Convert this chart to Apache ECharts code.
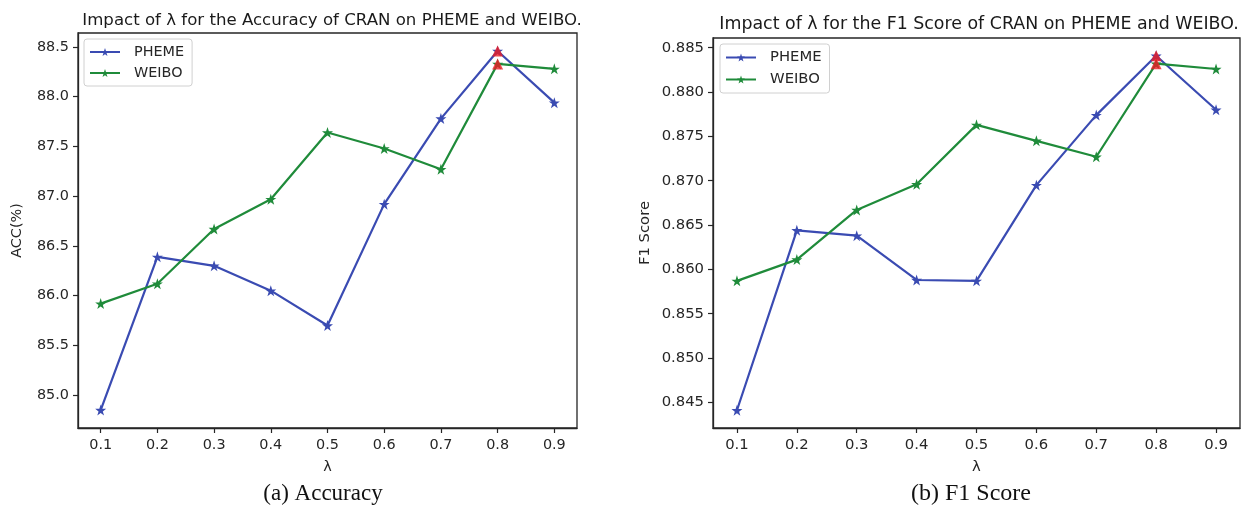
<!DOCTYPE html>
<html><head><meta charset="utf-8">
<script src="https://cdn.jsdelivr.net/npm/echarts@6/dist/echarts.min.js"></script>
<style>html,body{margin:0;padding:0;background:#fff}#c{width:1248px;height:510px}</style>
</head><body><div id="c"></div>
<script>
// ---- data ----
const lambdas = [0.1, 0.2, 0.3, 0.4, 0.5, 0.6, 0.7, 0.8, 0.9];
const accPheme = [84.85, 86.39, 86.30, 86.05, 85.70, 86.92, 87.78, 88.46, 87.94];
const accWeibo = [85.92, 86.12, 86.67, 86.97, 87.64, 87.48, 87.27, 88.33, 88.28];
const f1Pheme = [0.8441, 0.8644, 0.8638, 0.8588, 0.8587, 0.8695, 0.8774, 0.8841, 0.8780];
const f1Weibo = [0.8587, 0.8611, 0.8667, 0.8696, 0.8763, 0.8745, 0.8727, 0.8832, 0.8826];
const xTicks = [0.1, 0.2, 0.3, 0.4, 0.5, 0.6, 0.7, 0.8, 0.9];
const accTicks = [85.0, 85.5, 86.0, 86.5, 87.0, 87.5, 88.0, 88.5];
const f1Ticks = [0.845, 0.850, 0.855, 0.860, 0.865, 0.870, 0.875, 0.880, 0.885];
const seriesNames = ['PHEME', 'WEIBO'];
const titles = ['Impact of λ for the Accuracy of CRAN on PHEME and WEIBO.', 'Impact of λ for the F1 Score of CRAN on PHEME and WEIBO.'];
const captions = ['(a) Accuracy', '(b) F1 Score'];
const yNames = ['ACC(%)', 'F1 Score'];

// ---- style ----
const BLUE = '#3a4bb2', GREEN = '#1f8b3a', RED = '#ee1c24', INK = '#262626';
const FONT = 'DejaVu Sans';
const STAR = 'path://M50,0 L61.8,35.1 L97.6,35.1 L68.5,56.8 L79.4,90.5 L50,69.6 L20.6,90.5 L31.5,56.8 L2.4,35.1 L38.2,35.1 Z';

function pad(arrs, frac) {
  const all = [].concat(...arrs);
  const lo = Math.min(...all), hi = Math.max(...all), m = (hi - lo) * frac;
  return [lo - m, hi + m];
}
const xr = pad([lambdas], 0.05);
const accR = pad([accPheme, accWeibo], 0.05);
const f1R = pad([f1Pheme, f1Weibo], 0.05);

const grids = [
  {left: 78, right: 671, top: 33, bottom: 82},
  {left: 713, right: 8, top: 38, bottom: 82}
];
const fs = [14.4, 14.8];

function xAxis(i) {
  return {
    type: 'value', gridIndex: i, min: xr[0], max: xr[1],
    name: 'λ', nameLocation: 'middle', nameGap: 32,
    nameTextStyle: {fontFamily: FONT, fontSize: fs[i], color: INK},
    axisLine: {show: true, lineStyle: {color: INK, width: 1.3}},
    axisTick: {show: true, length: 5, customValues: xTicks, lineStyle: {color: INK, width: 1.2}},
    axisLabel: {customValues: xTicks, margin: 10, fontFamily: FONT, fontSize: fs[i], color: INK,
      formatter: v => v.toFixed(1)},
    splitLine: {show: false}
  };
}
function yAxis(i, r, ticks, name, dec, gap) {
  return {
    type: 'value', gridIndex: i, min: r[0], max: r[1],
    name: name, nameLocation: 'middle', nameGap: gap, nameRotate: 90,
    nameTextStyle: {fontFamily: FONT, fontSize: fs[i], color: INK},
    axisLine: {show: true, lineStyle: {color: INK, width: 1.3}},
    axisTick: {show: true, length: 5, customValues: ticks, lineStyle: {color: INK, width: 1.2}},
    axisLabel: {customValues: ticks, margin: 9, fontFamily: FONT, fontSize: fs[i], color: INK,
      formatter: v => v.toFixed(dec)},
    splitLine: {show: false}
  };
}
function lineSeries(name, color, xi, vals) {
  return {
    type: 'line', name: name, xAxisIndex: xi, yAxisIndex: xi,
    data: lambdas.map((x, k) => [x, vals[k]]),
    symbol: STAR, symbolSize: 11, showAllSymbol: true,
    lineStyle: {color: color, width: 2.2},
    itemStyle: {color: color},
    emphasis: {disabled: true}, animation: false, z: 3
  };
}
function maxMark(xi, vals) {
  let k = vals.indexOf(Math.max(...vals));
  return {
    type: 'scatter', xAxisIndex: xi, yAxisIndex: xi,
    data: [[lambdas[k], vals[k]]],
    symbol: 'triangle', symbolSize: [11, 11],
    itemStyle: {color: RED}, animation: false, z: 5, silent: true
  };
}
function legend(i, left, top, names) {
  return {data: names, left: left, top: top, orient: 'vertical', itemGap: 7, itemWidth: 30, itemHeight: 10,
    padding: [6, 8, 6, 5], borderColor: '#d0d0d0', borderWidth: 1, borderRadius: 3,
    textStyle: {fontFamily: FONT, fontSize: fs[i], color: INK, padding: [0, 0, 0, 9]},
    selectedMode: false, formatter: n => n.trim()};
}

const option = {
  backgroundColor: '#fff',
  animation: false,
  title: [
    {text: titles[0], left: 327, top: 7, textAlign: 'center',
      textStyle: {fontFamily: FONT, fontSize: 16.6, fontWeight: 'normal', color: '#1a1a1a'}},
    {text: titles[1], left: 974, top: 11, textAlign: 'center',
      textStyle: {fontFamily: FONT, fontSize: 17.4, fontWeight: 'normal', color: '#1a1a1a'}},
    {text: captions[0], left: 318, top: 477, textAlign: 'center',
      textStyle: {fontFamily: 'Liberation Serif', fontSize: 23, fontWeight: 'normal', color: '#111'}},
    {text: captions[1], left: 966, top: 477, textAlign: 'center',
      textStyle: {fontFamily: 'Liberation Serif', fontSize: 24, fontWeight: 'normal', color: '#111'}}
  ],
  legend: [
    legend(0, 84, 39, seriesNames),
    legend(1, 720, 44, seriesNames.map(n => n + ' '))
  ],
  grid: grids.map(g => Object.assign({show: true, borderColor: INK, borderWidth: 1.3, backgroundColor: '#fff'}, g)),
  xAxis: [xAxis(0), xAxis(1)],
  yAxis: [yAxis(0, accR, accTicks, yNames[0], 1, 54), yAxis(1, f1R, f1Ticks, yNames[1], 3, 60)],
  series: [
    lineSeries(seriesNames[0], BLUE, 0, accPheme),
    lineSeries(seriesNames[1], GREEN, 0, accWeibo),
    lineSeries(seriesNames[0] + ' ', BLUE, 1, f1Pheme),
    lineSeries(seriesNames[1] + ' ', GREEN, 1, f1Weibo),
    maxMark(0, accPheme), maxMark(0, accWeibo),
    maxMark(1, f1Pheme), maxMark(1, f1Weibo)
  ]
};
const chart = echarts.init(document.getElementById('c'), null, {renderer: 'canvas'});
chart.setOption(option);
</script>
</body></html>
